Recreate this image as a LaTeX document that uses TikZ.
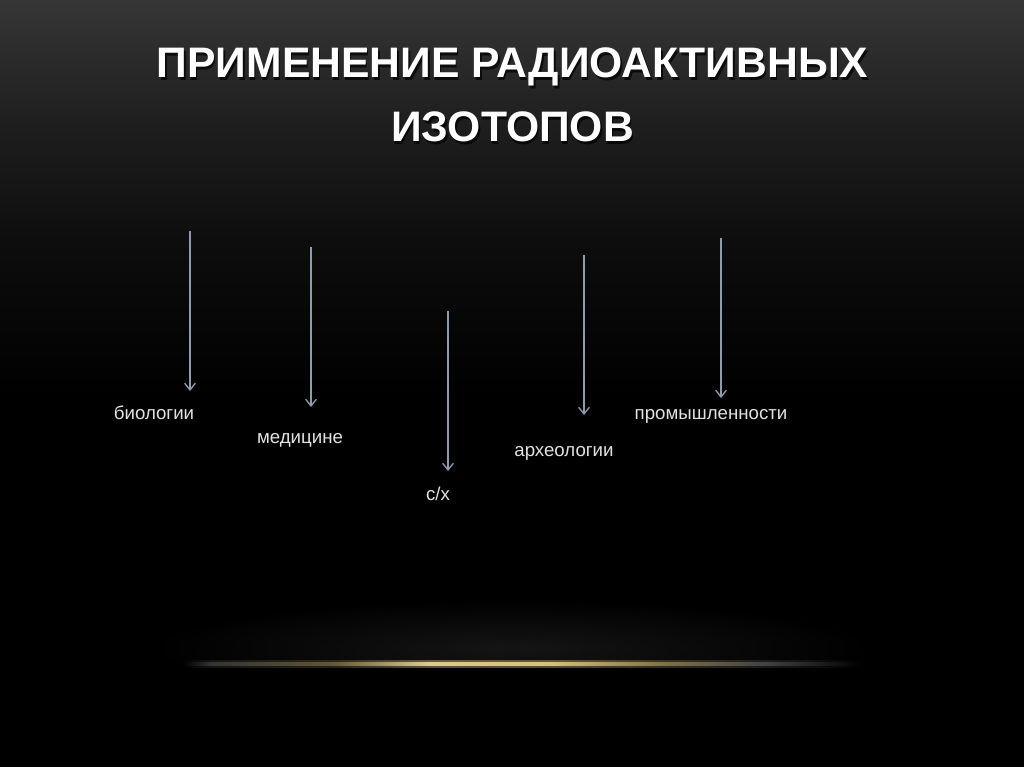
\documentclass[tikz,border=0pt]{standalone}
\usepackage{fontspec}
\setmainfont{Liberation Sans}
\usetikzlibrary{arrows.meta}
\definecolor{arrowc}{HTML}{8E9CAE}
\definecolor{labelc}{HTML}{E2E2E2}
\definecolor{gold}{HTML}{D8C07A}
% shadings: the path spans 25bp..75bp of the declared 100bp
\pgfdeclareverticalshading{bgshade}{100bp}{color(0bp)=(black); color(25bp)=(black); color(49bp)=(black); color(59bp)=(black!95!white); color(67bp)=(black!88!white); color(75bp)=(black!79!white); color(100bp)=(black!79!white)}
\pgfdeclarehorizontalshading{glowshade}{100bp}{color(0bp)=(black); color(25bp)=(black); color(27bp)=(black!80!white); color(36bp)=(black!55!gold); color(43bp)=(gold!85!white); color(52bp)=(gold); color(60bp)=(black!40!gold); color(68bp)=(black!75!white); color(75bp)=(black); color(100bp)=(black)}
\tikzset{
  lbl/.style={text=labelc, font=\fontsize{14pt}{16pt}\selectfont, anchor=base, inner sep=0pt},
  ttl/.style={text=white, font=\bfseries\fontsize{32pt}{36pt}\selectfont, anchor=base, inner sep=0pt},
  ttlsh/.style={text=black, opacity=0.7, font=\bfseries\fontsize{32pt}{36pt}\selectfont, anchor=base, inner sep=0pt},
  conn/.style={draw=arrowc, line width=1pt, -{Straight Barb[length=5pt,width=8pt,line width=1pt]}}
}
\begin{document}
\begin{tikzpicture}[x=0.75pt,y=-0.75pt]
\useasboundingbox (0,0) rectangle (1024,767);
\shade[shading=bgshade] (0,0) rectangle (1024,767);
% soft haze above the glow line
\begin{scope}
\clip (0,560) rectangle (1024,663);
\shade[inner color=black!92!white, outer color=black] (512,648) ellipse (360 and 48);
\end{scope}
% glow line
\shade[shading=glowshade, opacity=0.4] (183,660.5) rectangle (863,667.5);
\shade[shading=glowshade] (183,662.7) rectangle (863,665.3);
% title
\node[ttlsh] at (514,80) {ПРИМЕНЕНИЕ РАДИОАКТИВНЫХ};
\node[ttlsh] at (514,144) {ИЗОТОПОВ};
\node[ttl] (t1) at (512.5,78) {ПРИМЕНЕНИЕ РАДИОАКТИВНЫХ};
\node[ttl] (t2) at (512.5,142) {ИЗОТОПОВ};
% labels
\node[lbl] (bio) at (154,419) {биологии};
\node[lbl] (med) at (300,443) {медицине};
\node[lbl] (sx) at (438,500) {с/х};
\node[lbl] (arch) at (564,456) {археологии};
\node[lbl] (prom) at (711,419) {промышленности};
% arrow ends
\coordinate (a1s) at (190,231); \coordinate (a1e) at (190,391);
\coordinate (a2s) at (311,247); \coordinate (a2e) at (311,407);
\coordinate (a3s) at (448,311); \coordinate (a3e) at (448,471);
\coordinate (a4s) at (584,255); \coordinate (a4e) at (584,415);
\coordinate (a5s) at (721,238); \coordinate (a5e) at (721,398);
\draw[conn] (a1s) -- (a1e);
\draw[conn] (a2s) -- (a2e);
\draw[conn] (a3s) -- (a3e);
\draw[conn] (a4s) -- (a4e);
\draw[conn] (a5s) -- (a5e);
\end{tikzpicture}
\end{document}
